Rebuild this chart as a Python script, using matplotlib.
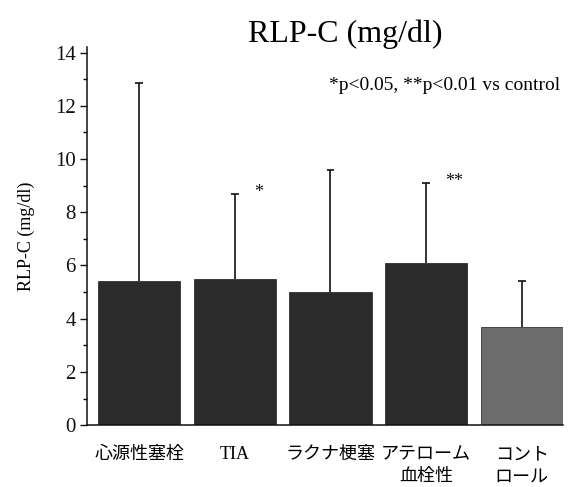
import matplotlib
matplotlib.use("Agg")
import matplotlib.pyplot as plt
from matplotlib.ticker import MultipleLocator

# values
groups = ["心源性塞栓", "TIA", "ラクナ梗塞", "アテローム\n血栓性", "コント\nロール"]
means = [5.4, 5.5, 5.0, 6.1, 3.7]
sd_upper = [7.45, 3.2, 4.6, 3.0, 1.7]
marks = ["", "*", "", "**", ""]
bar_colors = ["#2b2b2b", "#2b2b2b", "#2b2b2b", "#2b2b2b", "#6c6c6c"]

SERIF = ["Liberation Serif", "Noto Sans CJK JP", "DejaVu Serif"]

fig = plt.figure(figsize=(5.71, 4.87), dpi=100, facecolor="white")
ax = fig.add_axes([0.152, 0.127, 0.834, 0.776])

x = list(range(len(groups)))
tops = [m + s for m, s in zip(means, sd_upper)]
ax.bar(x, means, width=0.86, color=bar_colors, edgecolor="#1a1a1a", linewidth=0.5, zorder=2)
# upper-only error bars: stem from the bar top plus a short cap
ax.vlines(x, means, tops, color="#111111", linewidth=1.2, zorder=1)
ax.hlines(tops, [xi - 0.04 for xi in x], [xi + 0.04 for xi in x],
          color="#111111", linewidth=1.2, zorder=1)

for xi, t, mk in zip(x, tops, marks):
    if mk:
        ax.text(xi + 0.2, t + 0.05, mk, ha="left", va="center", fontsize=13,
                family=SERIF, color="#111111")

ax.set_xlim(-0.547, 4.43)
ax.set_ylim(0, 14.2)
ax.yaxis.set_major_locator(MultipleLocator(2))
ax.yaxis.set_minor_locator(MultipleLocator(1))
ax.tick_params(axis="y", which="major", direction="out", length=5, width=1,
               labelsize=15, pad=3, colors="#111111")
ax.tick_params(axis="y", which="minor", direction="out", length=3, width=1)
for lab in ax.get_yticklabels():
    lab.set_family(SERIF)

ax.set_xticks(x)
ax.set_xticklabels(groups, family=SERIF, fontsize=13, linespacing=1.4, va="top")
ax.tick_params(axis="x", length=0, pad=15)
# the atherothrombotic label sits a little right of its bar in the reference
ax.get_xticklabels()[3].set_x(3.12)

for side in ("top", "right"):
    ax.spines[side].set_visible(False)
for side in ("left", "bottom"):
    ax.spines[side].set_linewidth(1.1)
    ax.spines[side].set_color("#111111")

ax.set_ylabel("RLP-C (mg/dl)", family=SERIF, fontsize=13, labelpad=14)

fig.text(0.605, 0.93, "RLP-C (mg/dl)", ha="center", va="center",
         family=SERIF, fontsize=23)
ax.text(0.995, 0.9, "*p<0.05, **p<0.01 vs control", transform=ax.transAxes,
        ha="right", va="center", family=SERIF, fontsize=14)

fig.savefig("out.png", dpi=100, facecolor="white")
